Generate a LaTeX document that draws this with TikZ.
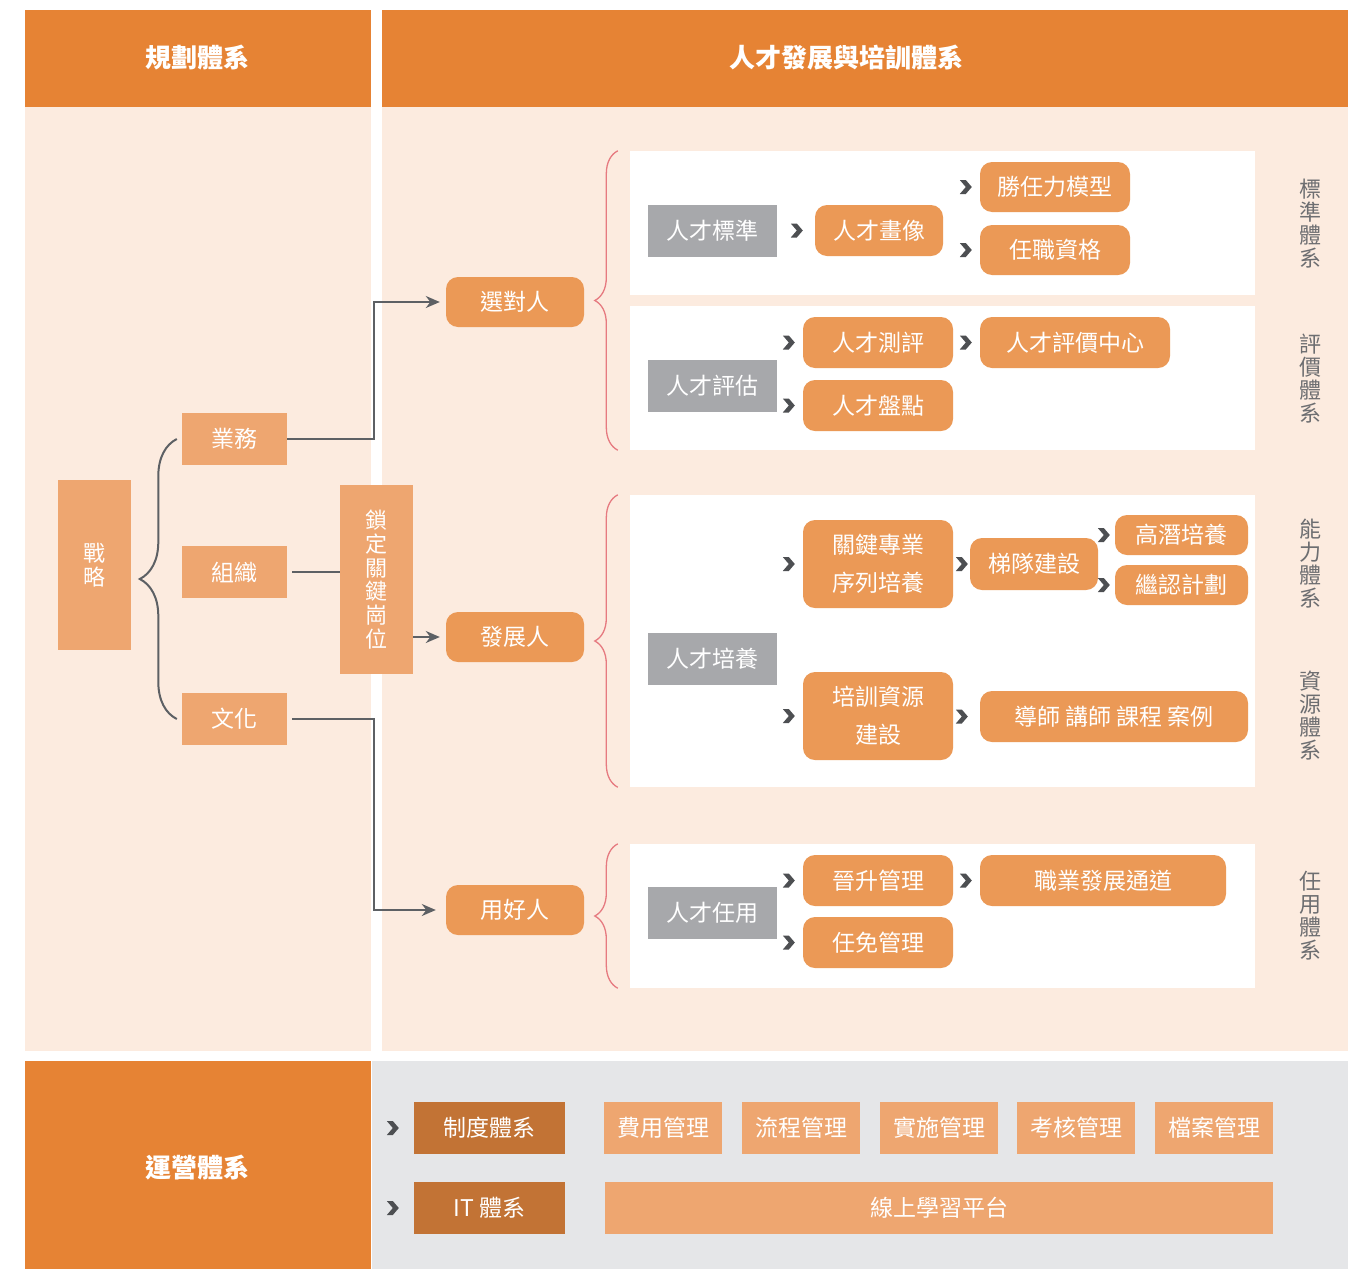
\documentclass[tikz,border=0pt]{standalone}
\usepackage{fontspec}
\setmainfont{Noto Sans CJK TC}
\usetikzlibrary{arrows.meta}
\usetikzlibrary{positioning}
\usetikzlibrary{calc}
\usetikzlibrary{decorations.pathreplacing}

\definecolor{hdrorange}{HTML}{E68334}
\definecolor{paneltint}{HTML}{FCEBDF}
\definecolor{pillorange}{HTML}{EB9956}
\definecolor{blkorange}{HTML}{EEA670}
\definecolor{darkorange}{HTML}{C27335}
\definecolor{taggrey}{HTML}{A7A8AB}
\definecolor{botgrey}{HTML}{E5E6E8}
\definecolor{bracered}{HTML}{E67A80}
\definecolor{linegrey}{HTML}{5D6064}
\definecolor{lblgrey}{HTML}{6D6E71}
\definecolor{chevgrey}{HTML}{4D4F52}

\begin{document}
\begin{tikzpicture}[x=1pt,y=-1pt,
	every node/.style={inner sep=0pt,text=white,font=\fontsize{23}{25}\selectfont},
	hdrtext/.style={font=\bfseries\fontsize{26}{28}\selectfont},
	pill/.style={fill=pillorange,rounded corners=12pt,minimum height=51pt},
	blk/.style={fill=blkorange,minimum height=52pt},
	darkblk/.style={fill=darkorange,minimum width=151pt,minimum height=52pt},
	tag/.style={fill=taggrey,minimum width=129pt,minimum height=52pt},
	whitebox/.style={fill=white,minimum width=625pt},
	sidelbl/.style={text=lblgrey,align=center,font=\fontsize{22}{23}\selectfont},
	conn/.style={draw=linegrey,line width=2pt},
	tip/.style={-{Stealth[length=14pt,width=12pt]}},
	redbrace/.style={draw=bracered,line width=1.3pt,decorate,decoration={brace,amplitude=23pt}},
	greybrace/.style={draw=linegrey,line width=2pt,decorate,decoration={brace,amplitude=37pt}},
	chev/.style={fill=chevgrey}]
	\useasboundingbox (0,0) rectangle (1348,1269);
	% panels
	\fill[hdrorange] (25,10) rectangle (371,107);
	\fill[hdrorange] (382,10) rectangle (1348,107);
	\fill[paneltint] (25,107) rectangle (371,1051);
	\fill[paneltint] (382,107) rectangle (1348,1051);
	\fill[hdrorange] (25,1061) rectangle (371,1269);
	\fill[botgrey] (372,1061) rectangle (1348,1269);
	\node[hdrtext] (plan) at (197,58) {規劃體系};
	\node[hdrtext] (talent) at (846,58) {人才發展與培訓體系};
	\node[hdrtext] (ops) at (197,1168) {運營體系};
	% planning column
	\node[blk,minimum width=73pt,minimum height=170pt,align=center,font=\fontsize{22}{24}\selectfont] (strategy) at (94.5,565) {戰\\略};
	\node[blk,minimum width=105pt] (business) at (234.5,439) {業務};
	\node[blk,minimum width=105pt] (org) at (234.5,572) {組織};
	\node[blk,minimum width=105pt] (culture) at (234.5,719) {文化};
	\node[blk,minimum width=73pt,minimum height=189pt,align=center,font=\fontsize{22}{23.7}\selectfont] (keypos) at (376.5,579.5) {鎖\\定\\關\\鍵\\崗\\位};
	\draw[greybrace] ([xshift=-5pt]culture.west) -- ([xshift=-5pt]business.west);
	% three goals
	\node[pill,minimum width=138pt,minimum height=50pt] (select) at (515,302) {選對人};
	\node[pill,minimum width=138pt,minimum height=50pt] (develop) at (515,637) {發展人};
	\node[pill,minimum width=138pt,minimum height=50pt] (employ) at (515,910) {用好人};
	\draw[conn,tip,shorten >=6pt] (business.east) -- ++(87,0) |- (select.west);
	\draw[conn,shorten <=5pt] (org.east) -- (keypos.west |- org.east);
	\draw[conn,tip,shorten >=6pt] (keypos.east |- develop.west) -- (develop.west);
	\draw[conn,tip,shorten <=5pt,shorten >=10pt] (culture.east) -- ++(87,0) |- (employ.west);
	% white boxes
	\node[whitebox,minimum height=144pt] (stdbox) at (942.5,223) {};
	\node[whitebox,minimum height=144pt] (evalbox) at (942.5,378) {};
	\node[whitebox,minimum height=292pt] (devbox) at (942.5,641) {};
	\node[whitebox,minimum height=144pt] (usebox) at (942.5,916) {};
	\draw[redbrace] ([xshift=-12pt]evalbox.south west) -- ([xshift=-12pt]stdbox.north west);
	\draw[redbrace] ([xshift=-12pt]devbox.south west) -- ([xshift=-12pt]devbox.north west);
	\draw[redbrace] ([xshift=-12pt]usebox.south west) -- ([xshift=-12pt]usebox.north west);
	% standard
	\node[tag] (std) at (712.5,230.5) {人才標準};
	\node[pill,minimum width=128pt] (portrait) at (879,230.5) {人才畫像};
	\node[pill,minimum width=150pt,minimum height=50pt] (compmodel) at (1055,187) {勝任力模型};
	\node[pill,minimum width=150pt,minimum height=50pt] (qualif) at (1055,250) {任職資格};
	% evaluation
	\node[tag] (eval) at (712.5,386) {人才評估};
	\node[pill,minimum width=150pt] (assess) at (878,342.5) {人才測評};
	\node[pill,minimum width=150pt] (inventory) at (878,405.5) {人才盤點};
	\node[pill,minimum width=190pt] (evalcenter) at (1075,342.5) {人才評價中心};
	% development
	\node[tag] (train) at (712.5,659) {人才培養};
	\node[pill,minimum width=150pt,minimum height=88pt,align=center,font=\fontsize{23}{38}\selectfont] (keytrack) at (878,564) {關鍵專業\\序列培養};
	\node[pill,minimum width=128pt,minimum height=52pt] (echelon) at (1034,564) {梯隊建設};
	\node[pill,minimum width=133pt,minimum height=40pt] (hipo) at (1181.5,535) {高潛培養};
	\node[pill,minimum width=133pt,minimum height=40pt] (succession) at (1181.5,585) {繼認計劃};
	\node[pill,minimum width=150pt,minimum height=88pt,align=center,font=\fontsize{23}{38}\selectfont] (resource) at (878,716) {培訓資源\\建設};
	\node[pill,minimum width=268pt] (mentor) at (1114,716.5) {導師 講師 課程 案例};
	% employment
	\node[tag] (use) at (712.5,913) {人才任用};
	\node[pill,minimum width=150pt] (promo) at (878,880.5) {晉升管理};
	\node[pill,minimum width=150pt] (appoint) at (878,942.5) {任免管理};
	\node[pill,minimum width=246pt] (career) at (1103,880.5) {職業發展通道};
	% side labels
	\node[sidelbl] (stdlbl) at (1310,224) {標\\準\\體\\系};
	\node[sidelbl] (evallbl) at (1310,379) {評\\價\\體\\系};
	\node[sidelbl] (abilbl) at (1310,564) {能\\力\\體\\系};
	\node[sidelbl] (reslbl) at (1310,716) {資\\源\\體\\系};
	\node[sidelbl] (uselbl) at (1310,916) {任\\用\\體\\系};
	% operations
	\node[darkblk] (system) at (489.5,1128) {制度體系};
	\node[darkblk] (itsys) at (489.5,1208) {IT 體系};
	\node[blk,minimum width=118pt] (cost) at (663,1128) {費用管理};
	\node[blk,minimum width=118pt] (flow) at (801,1128) {流程管理};
	\node[blk,minimum width=118pt] (impl) at (939,1128) {實施管理};
	\node[blk,minimum width=118pt] (audit) at (1076,1128) {考核管理};
	\node[blk,minimum width=118pt] (archive) at (1214,1128) {檔案管理};
	\node[blk,minimum width=668pt] (elearn) at (939,1208) {線上學習平台};
	% chevrons
	\foreach \n/\d in {portrait/18,compmodel/14,qualif/14,assess/14,inventory/14,evalcenter/14,keytrack/14,echelon/8,hipo/11,succession/11,resource/14,mentor/18,promo/14,appoint/14,career/14,system/21,itsys/21}
		\fill[chev] ([xshift=-\d]\n.west) ++(-6,-7) -- ++(6,0) -- ++(6,7) -- ++(-6,7) -- ++(-6,0) -- ++(6,-7) -- cycle;
\end{tikzpicture}
\end{document}
